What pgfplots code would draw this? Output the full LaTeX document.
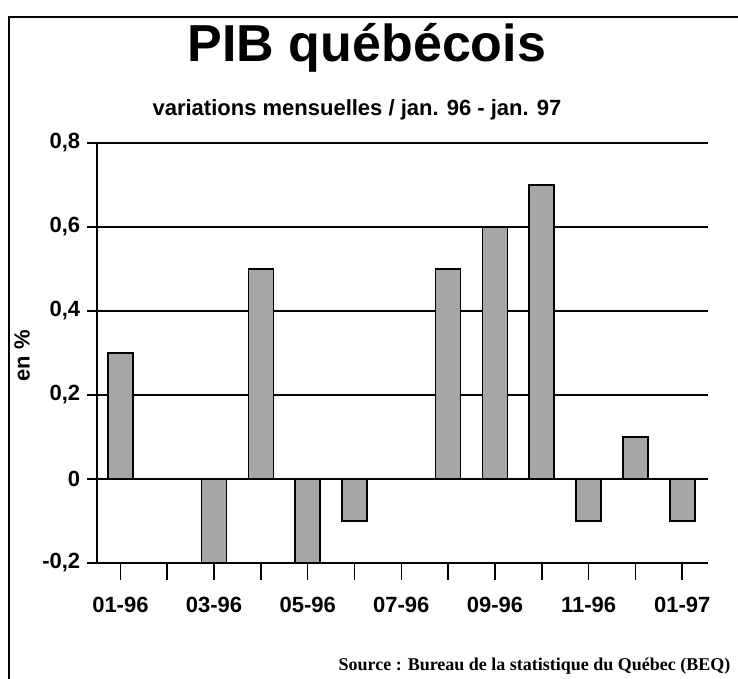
\documentclass[border=0pt]{standalone}
\usepackage{pgfplots}
\pgfplotsset{compat=1.18}
\usepackage{fontspec}
\setmainfont{Liberation Sans}
\newfontfamily\serifb{Liberation Serif}
\begin{document}
\begin{tikzpicture}
\useasboundingbox (0pt,0pt) rectangle (738pt,679pt);
\clip (0pt,0pt) rectangle (738pt,679pt);
\draw[line width=2pt] (9pt,0pt) -- (9pt,662pt) -- (740pt,662pt);
\node[font=\bfseries\fontsize{52}{52}\selectfont] at (367pt,631pt) {PIB québécois};
\node[font=\bfseries\fontsize{22}{22}\selectfont] at (357pt,569pt) {variations mensuelles / jan. 96 - jan. 97};
\node[font=\bfseries\fontsize{22}{22}\selectfont, rotate=90] at (22pt,323pt) {en \%};
\node[anchor=east, font=\serifb\bfseries\fontsize{18}{18}\selectfont] at (734pt,13pt) {Source : Bureau de la statistique du Québec (BEQ)};
\begin{axis}[
  at={(97pt,116pt)}, anchor=south west,
  scale only axis, width=611pt, height=420pt,
  xmin=-0.5, xmax=12.55, ymin=-0.2, ymax=0.8,
  ytick={-0.2,0,0.2,0.4,0.6,0.8},
  xtick={0,...,12},
  xticklabels={01-96,,03-96,,05-96,,07-96,,09-96,,11-96,,01-97},
  axis x line*=bottom, axis y line*=left,
  axis line style={line width=1.6pt,-},
  ymajorgrids, major grid style={black, line width=1.6pt},
  tick align=outside,
  tick style={black, line width=1.6pt},
  xtick style={/pgfplots/major tick length=17pt},
  ytick style={/pgfplots/major tick length=10pt},
  ticklabel style={font=\bfseries\fontsize{22}{22}\selectfont},
  /pgf/number format/assume math mode=true,
  yticklabel style={xshift=-9pt, /pgf/number format/.cd, fixed, use comma, precision=1},
  xticklabel style={yshift=-26pt},
  ybar, bar width=25pt,
]
\addplot[draw=black, line width=1.6pt, fill=black!35] coordinates {
 (0,0.3) (2,-0.2) (3,0.5) (4,-0.2) (5,-0.1) (7,0.5) (8,0.6) (9,0.7) (10,-0.1) (11,0.1) (12,-0.1)
};
\end{axis}
\end{tikzpicture}
\end{document}
